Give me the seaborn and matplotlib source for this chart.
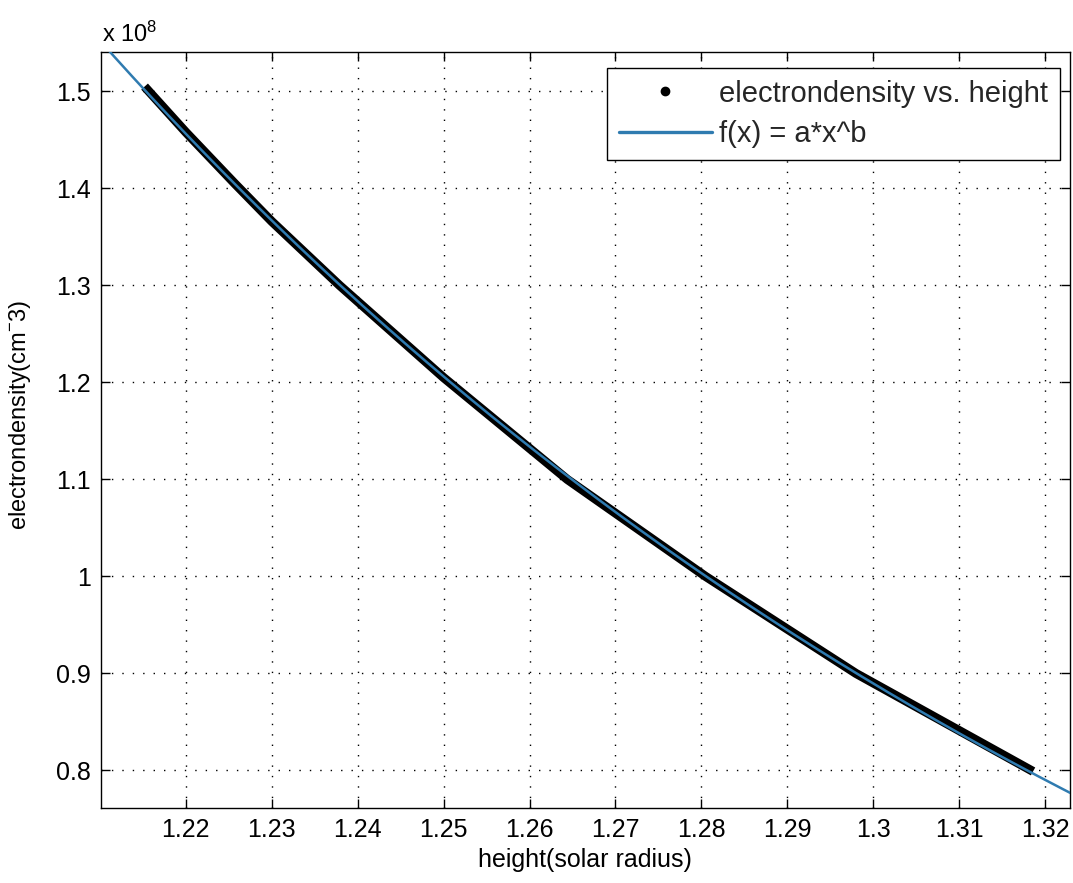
import numpy as np
import pandas as pd
import matplotlib
matplotlib.use("Agg")
import matplotlib.pyplot as plt
import seaborn as sns
from matplotlib.lines import Line2D
from matplotlib.ticker import FuncFormatter, FixedLocator

# ---- data ----
height = [1.2152, 1.2200, 1.2257, 1.2300, 1.2379, 1.2500, 1.2644, 1.2805, 1.2980, 1.3186]
density = [1.505e8, 1.458e8, 1.405e8, 1.366e8, 1.300e8, 1.205e8, 1.100e8, 1.000e8, 0.900e8, 0.799e8]
x_ticks = [1.22, 1.23, 1.24, 1.25, 1.26, 1.27, 1.28, 1.29, 1.30, 1.31, 1.32]
y_ticks = [0.8e8, 0.9e8, 1.0e8, 1.1e8, 1.2e8, 1.3e8, 1.4e8, 1.5e8]
legend_labels = ["electrondensity vs. height", "f(x) = a*x^b"]

# power-law fit f(x) = a*x^b from the data
b, ln_a = np.polyfit(np.log(height), np.log(density), 1)
x_fit = np.linspace(1.205, 1.33, 300)
y_fit = np.exp(ln_a) * x_fit ** b

df_obs = pd.DataFrame({"height": height, "density": density})
df_fit = pd.DataFrame({"height": x_fit, "density": y_fit})

sns.set_style("ticks")
plt.rcParams["font.family"] = ["Liberation Sans", "DejaVu Sans"]
plt.rcParams["mathtext.fontset"] = "custom"
plt.rcParams["mathtext.rm"] = "Liberation Sans"
plt.rcParams["mathtext.it"] = "Liberation Sans:italic"
plt.rcParams["mathtext.bf"] = "Liberation Sans:bold"

fit_color = "#2f7bb0"

fig = plt.figure(figsize=(10.73, 8.83), dpi=100)
ax = fig.add_axes([0.0939, 0.0846, 0.9033, 0.8569])

sns.lineplot(data=df_obs, x="height", y="density", color="black", linewidth=6.5,
             sort=False, estimator=None, ax=ax, zorder=3,
             solid_capstyle="butt", solid_joinstyle="round")
sns.lineplot(data=df_fit, x="height", y="density", color=fit_color, linewidth=1.8,
             sort=False, estimator=None, ax=ax, zorder=4)

ax.set_xlim(1.2101, 1.3229)
ax.set_ylim(0.761e8, 1.541e8)
ax.xaxis.set_major_locator(FixedLocator(x_ticks))
ax.yaxis.set_major_locator(FixedLocator(y_ticks))
ax.xaxis.set_major_formatter(FuncFormatter(lambda v, p: "%g" % round(v, 4)))
ax.yaxis.set_major_formatter(FuncFormatter(lambda v, p: "%g" % round(v / 1e8, 4)))

ax.grid(True, color="black", linestyle=(0, (1, 6.5)), linewidth=1.0)
ax.set_axisbelow(True)
ax.tick_params(direction="in", length=6.5, width=1, top=True, right=True,
               labelsize=18, pad=7, colors="black")
for s in ax.spines.values():
    s.set_linewidth(1.0)
    s.set_color("black")
    s.set_visible(True)

ax.set_xlabel("height(solar radius)", fontsize=18, labelpad=4, color="black")
ax.set_ylabel(r"electrondensity(cm$^{-}$3)", fontsize=17, color="black")
ax.yaxis.set_label_coords(-0.070, 0.52)

ax.text(0.0014, 1.0128, r"x 10$^{8}$", transform=ax.transAxes, fontsize=17,
        ha="left", va="baseline", color="black")

handles = [
    Line2D([], [], linestyle="none", marker="o", color="black", markersize=6),
    Line2D([], [], color=fit_color, linewidth=2.4),
]
leg = ax.legend(handles, legend_labels, loc="upper right",
                bbox_to_anchor=(0.9897, 0.9785), borderaxespad=0,
                fontsize=21, frameon=True, fancybox=False, shadow=False,
                handlelength=3.2, handletextpad=0.25, borderpad=0.4,
                labelspacing=0.42, numpoints=1)
leg.get_frame().set_edgecolor("black")
leg.get_frame().set_linewidth(1.0)
leg.get_frame().set_alpha(1)

fig.savefig("out.png", dpi=100)
